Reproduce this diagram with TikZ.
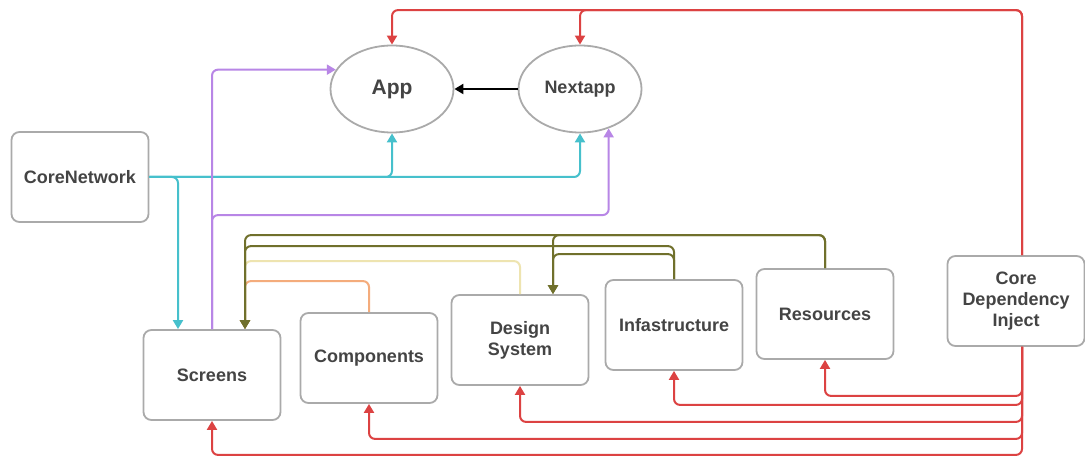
\documentclass[tikz,border=0pt]{standalone}
\usepackage{fontspec}
\setmainfont{Liberation Sans}
\usetikzlibrary{arrows.meta, positioning, shapes.geometric}

\definecolor{depred}{RGB}{220,66,66}
\definecolor{netcyan}{RGB}{70,192,204}
\definecolor{scrpurple}{RGB}{184,134,230}
\definecolor{resolive}{RGB}{112,112,44}
\definecolor{dsyellow}{RGB}{238,228,176}
\definecolor{comporange}{RGB}{244,172,124}
\definecolor{boxgray}{RGB}{170,170,170}
\definecolor{txtgray}{RGB}{68,68,68}

\begin{document}
\begin{tikzpicture}[x=0.5pt, y=-0.5pt, >={Triangle[width=5pt,length=4.5pt]},
  module/.style={draw=boxgray, line width=0.9pt, rounded corners=4pt, fill=white,
    minimum width=68.5pt, minimum height=45pt, align=center, text=txtgray,
    font=\fontsize{9}{10.5}\selectfont\bfseries},
  appnode/.style={ellipse, draw=boxgray, line width=0.9pt, fill=white, inner sep=0pt,
    minimum width=61.5pt, minimum height=43.5pt, text=txtgray,
    font=\fontsize{9}{10.5}\selectfont\bfseries},
  link/.style={->, line width=1pt, rounded corners=3pt}]

  \fill[white] (0,0) rectangle (1085,458);
  \useasboundingbox (0,0) rectangle (1085,458);

  % modules
  \node[appnode, font=\fontsize{10.5}{12}\selectfont\bfseries] (app) at (392,89) {App};
  \node[appnode] (nextapp) at (580,89) {Nextapp};
  \node[module] (corenet) at (80,177) {CoreNetwork};
  \node[module] (screens) at (212,375) {Screens};
  \node[module] (components) at (369,358) {Components};
  \node[module] (design) at (520,340) {Design\\System};
  \node[module] (infra) at (674,325) {Infastructure};
  \node[module] (resources) at (825,314) {Resources};
  \node[module] (cdi) at (1016,301) {Core\\Dependency\\Inject};

  % nextapp uses app
  \draw[link, black] (nextapp) -- (app);

  % core network
  \draw[link, netcyan] (corenet.east) -| (app.south);
  \draw[link, netcyan] (corenet.east) -| (nextapp.south);
  \draw[link, netcyan] (corenet.east) -| ([xshift=-17pt]screens.north);

  % screens
  \draw[link, scrpurple] (screens.north) |- (app.161);
  \draw[link, scrpurple] (screens.north) -- ++(0,-114) -| (nextapp.-54);

  % design system and components
  \draw[link, dsyellow] (design.north) -- ++(0,-33) -| ([xshift=16.5pt]screens.north);
  \draw[link, comporange] (components.north) -- ++(0,-31) -| ([xshift=16.5pt]screens.north);

  % resources and infastructure
  \draw[link, resolive] (resources.north) -- ++(0,-33) -| ([xshift=16.5pt]screens.north);
  \draw[link, resolive] (resources.north) -- ++(0,-33) -| ([xshift=16.5pt]design.north);
  \draw[link, resolive] (infra.north) -- ++(0,-33) -| ([xshift=16.5pt]screens.north);
  \draw[link, resolive] (infra.north) -- ++(0,-25) -| ([xshift=16.5pt]design.north);

  % dependency injection
  \draw[link, depred] ([xshift=3pt]cdi.north) -- ++(0,-245) -| (nextapp.north);
  \draw[link, depred] ([xshift=3pt]cdi.north) -- ++(0,-245) -| (app.north);
  \draw[link, depred] ([xshift=3pt]cdi.south) -- ++(0,49) -| (resources.south);
  \draw[link, depred] ([xshift=3pt]cdi.south) -- ++(0,58) -| (infra.south);
  \draw[link, depred] ([xshift=3pt]cdi.south) -- ++(0,75) -| (design.south);
  \draw[link, depred] ([xshift=3pt]cdi.south) -- ++(0,92) -| (components.south);
  \draw[link, depred] ([xshift=3pt]cdi.south) -- ++(0,108) -| (screens.south);
\end{tikzpicture}
\end{document}
